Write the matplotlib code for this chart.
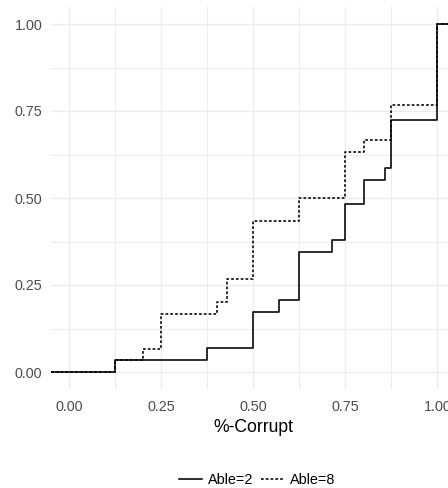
import matplotlib
matplotlib.use("Agg")
import matplotlib.pyplot as plt
from matplotlib.lines import Line2D
import numpy as np

plt.rcParams['font.family'] = ['Liberation Sans', 'DejaVu Sans']

# ECDF jump locations and cumulative proportions for each group
able2_x = [0.125, 0.375, 0.5, 0.571, 0.625, 0.714, 0.75, 0.8, 0.857, 0.875, 1.0]
able2_y = [0.034, 0.069, 0.172, 0.207, 0.345, 0.379, 0.483, 0.552, 0.586, 0.724, 1.0]
able8_x = [0.125, 0.2, 0.25, 0.4, 0.429, 0.5, 0.625, 0.75, 0.8, 0.875, 1.0]
able8_y = [0.034, 0.067, 0.167, 0.2, 0.267, 0.433, 0.5, 0.633, 0.667, 0.767, 1.0]

group_labels = ["Able=2", "Able=8"]
x_ticks = [0.0, 0.25, 0.5, 0.75, 1.0]
y_ticks = [0.0, 0.25, 0.5, 0.75, 1.0]
x_title = "%-Corrupt"

W, H, DPI = 448, 488, 100
fig = plt.figure(figsize=(W / DPI, H / DPI), dpi=DPI)

# panel in pixels (extends past the right edge of the canvas)
left_px, right_px, top_px, bottom_px = 50.9, 455.7, 6.6, 389.4
ax = fig.add_axes([left_px / W, 1 - bottom_px / H,
                   (right_px - left_px) / W, (bottom_px - top_px) / H])

xlim = (-0.05, 1.05)
ylim = (-0.05, 1.05)
ax.set_xlim(*xlim)
ax.set_ylim(*ylim)

grid_col = "#EBEBEB"
ax.set_xticks(x_ticks)
ax.set_yticks(y_ticks)
ax.set_xticks([0.125, 0.375, 0.625, 0.875], minor=True)
ax.set_yticks([0.125, 0.375, 0.625, 0.875], minor=True)
ax.grid(which="major", color=grid_col, linewidth=0.9)
ax.grid(which="minor", color=grid_col, linewidth=0.65)
ax.set_axisbelow(True)
for s in ax.spines.values():
    s.set_visible(False)
ax.tick_params(which="both", length=0)
ax.tick_params(axis="y", pad=6.2, labelsize=10.4, labelcolor="#4D4D4D")
ax.tick_params(axis="x", pad=7.3, labelsize=10.4, labelcolor="#4D4D4D")
ax.set_xticklabels([f"{v:.2f}" for v in x_ticks])
ax.set_yticklabels([f"{v:.2f}" for v in y_ticks])


def ecdf_path(xs, ys):
    px = [xlim[0]] + list(xs) + [xlim[1]]
    py = [0.0] + list(ys) + [ys[-1]]
    return px, py


LW = 1.15
dot_style = (0, (1.7, 1.3))
px, py = ecdf_path(able8_x, able8_y)
ax.step(px, py, where="post", color="black", linewidth=LW, linestyle=dot_style)
px, py = ecdf_path(able2_x, able2_y)
ax.step(px, py, where="post", color="black", linewidth=LW)

ax.set_xlabel(x_title, fontsize=12.7, color="black", labelpad=4.0)

handles = [Line2D([], [], color="black", linewidth=LW),
           Line2D([], [], color="black", linewidth=LW, linestyle=dot_style)]
fig.legend(handles, group_labels, loc="center",
           bbox_to_anchor=(257.5 / W, 1 - 480.5 / H), ncol=2, frameon=False,
           fontsize=10.4, handlelength=1.55, handletextpad=0.45,
           columnspacing=0.55)

fig.savefig("out.png", dpi=DPI)
